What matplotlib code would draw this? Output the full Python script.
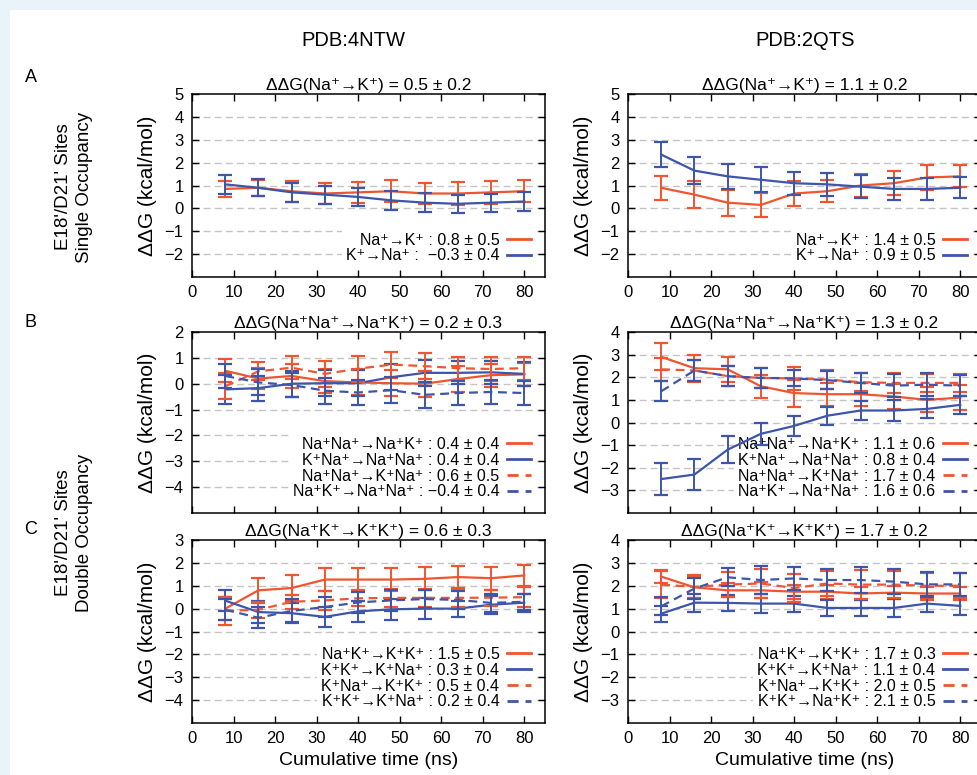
import numpy as np
import matplotlib
matplotlib.use("Agg")
import matplotlib.pyplot as plt
from matplotlib.patches import Rectangle

plt.rcParams["font.family"] = ["Liberation Sans", "DejaVu Sans"]

RED = "#f0552f"
BLUE = "#3d55aa"
DASH = (0, (4, 2.5))

# ── data: cumulative time (ns) ──────────────────────────────────────────────
time_ns = [8, 16, 24, 32, 40, 48, 56, 64, 72, 80]

# A, 4NTW (single occupancy)
a1_nak = [0.85, 0.9, 0.75, 0.65, 0.7, 0.75, 0.65, 0.65, 0.7, 0.75]
a1_nak_err = [0.35, 0.35, 0.45, 0.47, 0.45, 0.47, 0.45, 0.5, 0.5, 0.48]
a1_kna = [1.05, 0.9, 0.7, 0.6, 0.5, 0.35, 0.25, 0.2, 0.25, 0.3]
a1_kna_err = [0.4, 0.38, 0.4, 0.4, 0.38, 0.42, 0.43, 0.4, 0.4, 0.4]

# A, 2QTS
a2_nak = [0.9, 0.6, 0.25, 0.15, 0.65, 0.75, 1.0, 1.1, 1.35, 1.4]
a2_nak_err = [0.52, 0.6, 0.57, 0.52, 0.55, 0.48, 0.5, 0.52, 0.55, 0.48]
a2_kna = [2.35, 1.65, 1.4, 1.25, 1.1, 1.05, 0.95, 0.85, 0.85, 0.9]
a2_kna_err = [0.55, 0.58, 0.55, 0.55, 0.5, 0.5, 0.5, 0.48, 0.48, 0.46]

# B, 4NTW (double occupancy)
b1_s1 = [0.5, 0.2, 0.3, 0.1, 0.05, 0.02, 0.0, 0.18, 0.33, 0.36]
b1_s1_err = [0.45, 0.4, 0.45, 0.45, 0.5, 0.5, 0.5, 0.5, 0.45, 0.45]
b1_s2 = [-0.22, -0.17, 0.0, 0.02, 0.02, 0.25, 0.42, 0.42, 0.44, 0.38]
b1_s2_err = [0.55, 0.48, 0.5, 0.5, 0.5, 0.5, 0.5, 0.45, 0.45, 0.45]
b1_s3 = [-0.1, 0.48, 0.62, 0.38, 0.58, 0.74, 0.68, 0.6, 0.57, 0.6]
b1_s3_err = [0.5, 0.35, 0.45, 0.5, 0.5, 0.5, 0.5, 0.45, 0.45, 0.45]
b1_s4 = [0.3, 0.05, -0.05, -0.27, -0.34, -0.25, -0.43, -0.36, -0.32, -0.36]
b1_s4_err = [0.45, 0.5, 0.45, 0.5, 0.5, 0.5, 0.5, 0.45, 0.45, 0.45]

# B, 2QTS
b2_s1 = [2.9, 2.4, 2.35, 1.6, 1.3, 1.25, 1.25, 1.15, 1.0, 1.1]
b2_s1_err = [0.6, 0.6, 0.55, 0.5, 0.6, 0.5, 0.5, 0.55, 0.55, 0.55]
b2_s2 = [-2.5, -2.3, -1.2, -0.5, -0.15, 0.3, 0.53, 0.53, 0.6, 0.78]
b2_s2_err = [0.7, 0.68, 0.6, 0.5, 0.45, 0.4, 0.42, 0.45, 0.42, 0.4]
b2_s3 = [2.35, 2.3, 2.05, 1.97, 1.95, 1.9, 1.78, 1.75, 1.75, 1.75]
b2_s3_err = [0.5, 0.45, 0.45, 0.45, 0.5, 0.4, 0.4, 0.45, 0.4, 0.4]
b2_s4 = [1.38, 2.3, 2.05, 1.97, 1.95, 1.87, 1.75, 1.63, 1.67, 1.63]
b2_s4_err = [0.45, 0.45, 0.45, 0.45, 0.35, 0.4, 0.45, 0.5, 0.5, 0.45]

# C, 4NTW
c1_s1 = [0.0, 0.8, 0.9, 1.27, 1.27, 1.27, 1.3, 1.38, 1.33, 1.45]
c1_s1_err = [0.5, 0.55, 0.55, 0.5, 0.5, 0.5, 0.5, 0.5, 0.5, 0.45]
c1_s2 = [0.35, -0.15, -0.2, -0.36, -0.12, -0.03, 0.0, 0.0, 0.17, 0.26]
c1_s2_err = [0.45, 0.5, 0.45, 0.45, 0.45, 0.47, 0.47, 0.35, 0.4, 0.4]
c1_s3 = [-0.1, -0.05, 0.3, 0.36, 0.45, 0.47, 0.47, 0.47, 0.48, 0.5]
c1_s3_err = [0.6, 0.35, 0.3, 0.4, 0.35, 0.4, 0.4, 0.4, 0.35, 0.45]
c1_s4 = [-0.05, -0.4, -0.1, 0.07, 0.27, 0.36, 0.42, 0.38, 0.25, 0.3]
c1_s4_err = [0.45, 0.45, 0.5, 0.45, 0.45, 0.45, 0.4, 0.4, 0.4, 0.35]

# C, 2QTS
c2_s1 = [2.4, 1.93, 1.8, 1.8, 1.74, 1.74, 1.66, 1.7, 1.66, 1.66]
c2_s1_err = [0.3, 0.45, 0.3, 0.35, 0.3, 0.3, 0.3, 0.3, 0.3, 0.3]
c2_s2 = [0.78, 1.26, 1.25, 1.22, 1.22, 1.03, 1.03, 1.03, 1.22, 1.12]
c2_s2_err = [0.35, 0.4, 0.35, 0.4, 0.35, 0.35, 0.35, 0.4, 0.35, 0.4]
c2_s3 = [2.05, 1.95, 2.05, 2.1, 1.9, 2.1, 2.05, 2.05, 2.0, 2.0]
c2_s3_err = [0.6, 0.5, 0.55, 0.65, 0.6, 0.55, 0.65, 0.6, 0.55, 0.55]
c2_s4 = [1.1, 1.88, 2.37, 2.25, 2.32, 2.25, 2.25, 2.18, 2.06, 2.06]
c2_s4_err = [0.4, 0.45, 0.4, 0.6, 0.5, 0.5, 0.55, 0.55, 0.55, 0.5]

titles = [
    "ΔΔG(Na⁺→K⁺) = 0.5 ± 0.2",
    "ΔΔG(Na⁺→K⁺) = 1.1 ± 0.2",
    "ΔΔG(Na⁺Na⁺→Na⁺K⁺) = 0.2 ± 0.3",
    "ΔΔG(Na⁺Na⁺→Na⁺K⁺) = 1.3 ± 0.2",
    "ΔΔG(Na⁺K⁺→K⁺K⁺) = 0.6 ± 0.3",
    "ΔΔG(Na⁺K⁺→K⁺K⁺) = 1.7 ± 0.2",
]

a1_labels = ["Na⁺→K⁺ : 0.8 ± 0.5", "K⁺→Na⁺ :  −0.3 ± 0.4"]
a2_labels = ["Na⁺→K⁺ : 1.4 ± 0.5", "K⁺→Na⁺ : 0.9 ± 0.5"]
b1_labels = ["Na⁺Na⁺→Na⁺K⁺ : 0.4 ± 0.4",
             "K⁺Na⁺→Na⁺Na⁺ : 0.4 ± 0.4",
             "Na⁺Na⁺→K⁺Na⁺ : 0.6 ± 0.5",
             "Na⁺K⁺→Na⁺Na⁺ : −0.4 ± 0.4"]
b2_labels = ["Na⁺Na⁺→Na⁺K⁺ : 1.1 ± 0.6",
             "K⁺Na⁺→Na⁺Na⁺ : 0.8 ± 0.4",
             "Na⁺Na⁺→K⁺Na⁺ : 1.7 ± 0.4",
             "Na⁺K⁺→Na⁺Na⁺ : 1.6 ± 0.6"]
c1_labels = ["Na⁺K⁺→K⁺K⁺ : 1.5 ± 0.5",
             "K⁺K⁺→K⁺Na⁺ : 0.3 ± 0.4",
             "K⁺Na⁺→K⁺K⁺ : 0.5 ± 0.4",
             "K⁺K⁺→K⁺Na⁺ : 0.2 ± 0.4"]
c2_labels = ["Na⁺K⁺→K⁺K⁺ : 1.7 ± 0.3",
             "K⁺K⁺→K⁺Na⁺ : 1.1 ± 0.4",
             "K⁺Na⁺→K⁺K⁺ : 2.0 ± 0.5",
             "K⁺K⁺→Na⁺K⁺ : 2.1 ± 0.5"]

STYLES = [(RED, "-"), (BLUE, "-"), (RED, DASH), (BLUE, DASH)]

panels = [
    dict(series=[(a1_nak, a1_nak_err), (a1_kna, a1_kna_err)], labels=a1_labels, ylim=(-3, 5)),
    dict(series=[(a2_nak, a2_nak_err), (a2_kna, a2_kna_err)], labels=a2_labels, ylim=(-3, 5)),
    dict(series=[(b1_s1, b1_s1_err), (b1_s2, b1_s2_err), (b1_s3, b1_s3_err), (b1_s4, b1_s4_err)],
         labels=b1_labels, ylim=(-5, 2)),
    dict(series=[(b2_s1, b2_s1_err), (b2_s2, b2_s2_err), (b2_s3, b2_s3_err), (b2_s4, b2_s4_err)],
         labels=b2_labels, ylim=(-4, 4)),
    dict(series=[(c1_s1, c1_s1_err), (c1_s2, c1_s2_err), (c1_s3, c1_s3_err), (c1_s4, c1_s4_err)],
         labels=c1_labels, ylim=(-5, 3)),
    dict(series=[(c2_s1, c2_s1_err), (c2_s2, c2_s2_err), (c2_s3, c2_s3_err), (c2_s4, c2_s4_err)],
         labels=c2_labels, ylim=(-4, 4)),
]

# ── layout (figure fractions) ───────────────────────────────────────────────
W, H = 977, 775
col_x = [192 / W, 628 / W]
col_w = 353 / W
row_y = [(94, 277), (332, 513), (540, 723)]

fig = plt.figure(figsize=(W / 100, H / 100), dpi=100, facecolor="#e8f3fa")
fig.patches.append(Rectangle((10 / W, 0), 1, 1 - 10 / H, transform=fig.transFigure,
                             facecolor="white", edgecolor="none", zorder=-10))

for i, p in enumerate(panels):
    r, c = divmod(i, 2)
    top, bot = row_y[r]
    ax = fig.add_axes([col_x[c], 1 - bot / H, col_w, (bot - top) / H])
    lo, hi = p["ylim"]
    ax.set_xlim(0, 85)
    ax.set_ylim(lo, hi)
    ax.set_xticks(range(0, 81, 10))
    ax.set_yticks(range(lo + 1, hi + 1))
    for yv in range(lo + 1, hi):
        ax.axhline(yv, color="#c4c4c4", lw=1.0, ls=(0, (5, 3)), zorder=0)
    ax.tick_params(direction="in", top=True, right=True, length=5, width=1,
                   labelsize=12, pad=6)
    if r == 1:
        ax.tick_params(labelbottom=False)
    for s in ax.spines.values():
        s.set_linewidth(1.1)

    handles = []
    for (vals, errs), (col, ls) in zip(p["series"], STYLES):
        ax.errorbar(time_ns, vals, yerr=errs, fmt="none", ecolor=col,
                    elinewidth=1.4, capsize=5, capthick=1.6, zorder=3)
        ln, = ax.plot(time_ns, vals, color=col, ls=ls, lw=1.6, zorder=3)
        handles.append(ln)

    leg = ax.legend(handles, p["labels"], loc="lower right", markerfirst=False,
                    frameon=True, framealpha=1, edgecolor="none", fancybox=False,
                    fontsize=11.5, handlelength=1.5, handletextpad=0.5,
                    labelspacing=0.05, borderpad=0.25, borderaxespad=0.6)
    leg.set_zorder(2)
    for hl in leg.get_lines():
        hl.set_linewidth(2.0)

    ax.set_title(titles[i], fontsize=12.5, pad=3)
    ax.set_ylabel("ΔΔG (kcal/mol)", fontsize=15)
    ax.yaxis.set_label_coords(-0.1, 0.5)
    if r == 2:
        ax.set_xlabel("Cumulative time (ns)", fontsize=14, labelpad=4)

# column headers, panel letters, row labels
fig.text(353 / W, 1 - 40 / H, "PDB:4NTW", fontsize=14.5, ha="center", va="center")
fig.text(805 / W, 1 - 40 / H, "PDB:2QTS", fontsize=14.5, ha="center", va="center")
for letter, yy in [("A", 78), ("B", 322), ("C", 530)]:
    fig.text(31 / W, 1 - yy / H, letter, fontsize=13, ha="center", va="center")
fig.text(74 / W, 1 - 187 / H, "E18'/D21' Sites\nSingle Occupancy", fontsize=13.5,
         rotation=90, ha="center", va="center", linespacing=1.3)
fig.text(74 / W, 1 - 533 / H, "E18'/D21' Sites\nDouble Occupancy", fontsize=13.5,
         rotation=90, ha="center", va="center", linespacing=1.3)

fig.savefig("out.png", dpi=100, facecolor=fig.get_facecolor())
